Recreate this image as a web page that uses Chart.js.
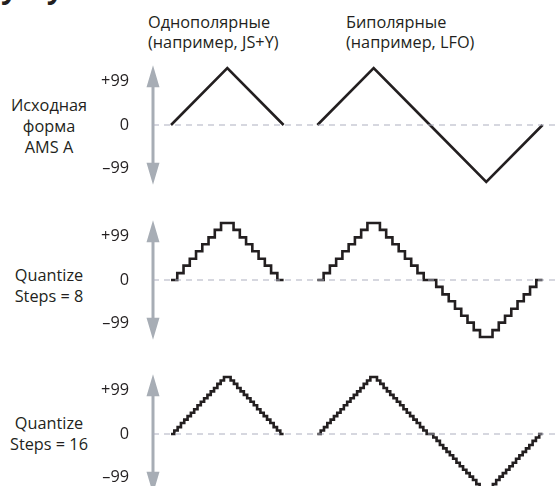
<!DOCTYPE html>
<html>
<head>
<meta charset="utf-8">
<script src="https://cdn.jsdelivr.net/npm/chart.js@4.4.1/dist/chart.umd.min.js"></script>
<style>
  html, body { margin: 0; padding: 0; background: #fff; }
  body { width: 560px; height: 486px; overflow: hidden; position: relative; font-family: 'Open Sans', sans-serif; color: #231f20; }
  .panel { position: absolute; left: 0; width: 560px; height: 156px; }
  .txt { position: absolute; font-size: 16.3px; line-height: 20px; white-space: nowrap; }
  .row { left: 0; width: 98px; text-align: center; line-height: 21px; }
  #cut { font-weight: bold; font-style: italic; font-size: 28px; line-height: 28px; top: -27px; left: 4px; word-spacing: 24px; }
</style>
</head>
<body>
<div class="txt" id="cut">y y</div>
<div id="labels"></div>
<div class="panel" style="top:47px"><canvas id="c0"></canvas></div>
<div class="panel" style="top:202px"><canvas id="c1"></canvas></div>
<div class="panel" style="top:356px"><canvas id="c2"></canvas></div>
<script>
const columnTitles = [['Однополярные', '(например, JS+Y)'], ['Биполярные', '(например, LFO)']];
const rowTitles = [['Исходная', 'форма', 'AMS A'], ['Quantize', 'Steps = 8'], ['Quantize', 'Steps = 16']];
const tickLabels = ['+99', '0', '–99'];
const tickValues = [75, 0, -75];

// source waveforms
const uniSource = [0, 99, 0];
const biSource = [0, 99, 0, -99, 0];

// quantized, 8 steps
const uni8 = [0, 12, 25, 37, 50, 62, 74, 87, 99, 99, 87, 74, 62, 50, 37, 25, 12, 0, 0];
const bi8 = [0, 12, 25, 37, 50, 62, 74, 87, 99, 99, 87, 74, 62, 50, 37, 25, 12, 0, 0,
  -12, -25, -37, -50, -62, -74, -87, -99, -99, -87, -74, -62, -50, -37, -25, -12, 0, 0];

// quantized, 16 steps
const uni16 = [0, 6, 12, 19, 25, 31, 37, 43, 50, 56, 62, 68, 74, 80, 87, 93, 99, 99,
  93, 87, 80, 74, 68, 62, 56, 50, 43, 37, 31, 25, 19, 12, 6, 0, 0];
const bi16 = [0, 6, 12, 19, 25, 31, 37, 43, 50, 56, 62, 68, 74, 80, 87, 93, 99, 99,
  93, 87, 80, 74, 68, 62, 56, 50, 43, 37, 31, 25, 19, 12, 6, 0, 0,
  -6, -12, -19, -25, -31, -37, -43, -50, -56, -62, -68, -74, -80, -87, -93, -99, -99,
  -93, -87, -80, -74, -68, -62, -56, -50, -43, -37, -31, -25, -19, -12, -6, 0, 0];

const INK = '#231f20';
const ARROW = '#a7adb5';
const uniSpan = [0, 2];
const biSpan = [2.6, 6.6];
const xMin = -0.32, xMax = 6.91;

function toPoints(values, span) {
  const dx = (span[1] - span[0]) / (values.length - 1);
  return values.map((v, i) => ({ x: span[0] + i * dx, y: v }));
}

// text labels
const lab = document.getElementById('labels');
function addText(lines, cls, style) {
  const d = document.createElement('div');
  d.className = 'txt ' + cls;
  d.setAttribute('style', style);
  d.innerHTML = lines.join('<br>');
  lab.appendChild(d);
}
addText(columnTitles[0], '', 'left:148px;top:12px');
addText(columnTitles[1], '', 'left:346px;top:12px');
const rowTops = [95, 265, 413];
rowTitles.forEach((t, i) => addText(t, 'row', 'top:' + rowTops[i] + 'px'));

const arrowAxis = {
  id: 'arrowAxis',
  beforeDatasetsDraw(chart) {
    const ctx = chart.ctx, y = chart.scales.y;
    const x = chart.chartArea.left;
    const top = y.getPixelForValue(104), bot = y.getPixelForValue(-104);
    const head = 22, half = 6.5;
    ctx.save();
    ctx.fillStyle = ARROW;
    ctx.fillRect(x - 1.5, top + head - 2, 3, bot - top - 2 * head + 4);
    ctx.beginPath();
    ctx.moveTo(x, top); ctx.lineTo(x + half, top + head); ctx.lineTo(x - half, top + head); ctx.closePath();
    ctx.moveTo(x, bot); ctx.lineTo(x + half, bot - head); ctx.lineTo(x - half, bot - head); ctx.closePath();
    ctx.fill();
    ctx.restore();
  }
};

function makeChart(id, uni, bi, stepped) {
  const line = (data) => ({
    data, borderColor: INK, borderWidth: 2.6, pointRadius: 0, tension: 0,
    stepped: stepped ? 'before' : false, borderJoinStyle: 'miter', fill: false
  });
  new Chart(document.getElementById(id), {
    type: 'line',
    data: {
      datasets: [
        { data: [{ x: xMin, y: 0 }, { x: xMax, y: 0 }], borderColor: '#aeb0c0', borderWidth: 1.2,
          borderDash: [6, 5], pointRadius: 0 },
        line(toPoints(uni, uniSpan)),
        line(toPoints(bi, biSpan))
      ]
    },
    options: {
      responsive: false,
      animation: false,
      events: [],
      layout: { padding: 0 },
      plugins: { legend: { display: false }, tooltip: { enabled: false } },
      scales: {
        x: { type: 'linear', min: xMin, max: xMax, display: false },
        y: {
          min: -135.5, max: 135.5,
          grid: { display: false }, border: { display: false },
          afterBuildTicks: (s) => { s.ticks = tickValues.map(v => ({ value: v })); },
          afterFit: (s) => { s.width = 153; s.paddingTop = 0; s.paddingBottom = 0; },
          ticks: {
            padding: 16, color: INK,
            font: { family: "'Open Sans', sans-serif", size: 16.3 },
            callback: (v) => tickLabels[tickValues.indexOf(v)]
          }
        }
      }
    },
    plugins: [arrowAxis]
  });
}

['c0', 'c1', 'c2'].forEach(id => {
  const c = document.getElementById(id);
  c.width = 560; c.height = 156;
});
makeChart('c0', uniSource, biSource, false);
makeChart('c1', uni8, bi8, true);
makeChart('c2', uni16, bi16, true);
</script>
</body>
</html>
